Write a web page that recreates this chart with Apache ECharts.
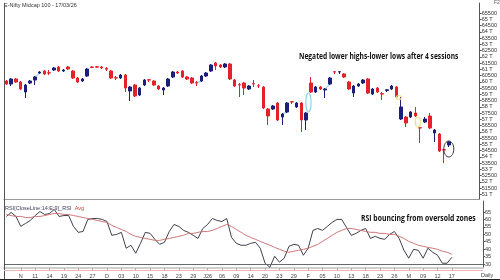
<!DOCTYPE html>
<html><head><meta charset="utf-8">
<script src="https://cdn.jsdelivr.net/npm/echarts@6/dist/echarts.min.js"></script>
<style>html,body{margin:0;padding:0;background:#fff;}#c{width:500px;height:280px;}</style>
</head><body><div id="c"></div>
<script>
const chartTitle = 'E-Nifty Midcap 100 - 17/03/26';
const note1 = 'Negated lower highs-lower lows after 4 sessions';
const note2 = 'RSI bouncing from oversold zones';
const rsiTitle = 'RSI[CloseLine:14:E:9]_RSI';
const tickLabels = ['N','11','14','19','24','27','D','03','10','15','18','23','29','J26','06','09','14','20','23','29','F','05','10','13','18','23','26','M','09','12','17'];
const priceTicks = [51000,51500,52000,52500,53000,53500,54000,54500,55000,55500,56000,56500,57000,57500,58000,58500,59000,59500,60000,60500,61000,61500,62000,62500,63000,63500,64000,64500,65000,65500];
const rsiTicks = [30,35,40,45,50,55,60,65];
// [open, close, low, high]
const candles = [
[60060,59820,59740,60140],[59820,60220,59660,60300],[60220,59980,59900,60300],[59980,59420,59340,60060],[59180,59740,58700,59820],
[59900,60060,59820,60140],[60140,60380,59740,60460],[60700,60780,60620,60860],[60860,60620,60540,60940],[60720,60700,60540,60940],
[60940,61100,60860,61180],[61180,60860,60780,61260],[60860,60940,60780,61020],[61180,61020,60940,61260],[60860,60300,60220,60940],
[60300,59980,59900,60380],[60060,60220,59980,60300],[60460,61020,60380,61100],[61180,61140,61100,61260],[61200,61170,61100,61260],
[61180,61100,61020,61260],[61060,61000,60860,61180],[60860,60300,60220,60940],[60320,60300,60140,60460],[60300,60540,60220,60620],
[60540,59500,59180,60620],[59260,59580,58460,59660],[59740,58860,58780,59820],[58940,59500,58860,59580],[59740,60140,59660,60220],
[60160,60140,59980,60220],[60060,59740,59660,60140],[59660,59420,59340,59740],[59340,59500,58940,59580],[59660,60220,59580,60300],
[60380,60780,60300,60860],[60780,60700,60620,60860],[60860,60380,60300,60940],[60380,60220,60140,60460],[60300,59900,59820,60380],
[59920,59900,59660,60060],[60060,60460,59980,60540],[60460,60700,60380,60780],[60860,61340,60780,61420],[61500,61260,60940,61580],
[61340,61180,61100,61420],[61180,61420,61100,61500],[61420,60220,60140,61500],[60140,59660,59580,60220],[59760,59740,58780,59900],
[59900,59500,58940,59980],[59420,59660,59340,59740],[59840,59820,59580,60140],[59680,59660,59500,59820],[59580,57900,57820,59660],
[57820,57260,56540,57900],[57820,58060,57740,58140],[58300,56940,56860,58380],[57180,57420,56540,57500],[57580,58300,57500,58380],
[58400,58380,58220,58460],[57980,58300,57900,58380],[58300,56940,55980,58380],[56940,57500,56140,57580],[59900,59180,59100,60380],
[59180,59580,59100,59660],[59580,59420,59340,59660],[59340,59420,58700,59500],[59820,60300,59740,60380],[60800,60780,60620,60860],
[60780,60800,60620,60860],[60620,60380,60300,60700],[59980,59420,59340,60060],[59100,59660,58780,59740],[59660,59820,59580,59900],
[59900,60140,59820,60220],[60220,59100,59020,60300],[59020,59420,58940,59500],[59500,59180,59100,59580],[59040,59020,58540,59180],
[59300,59360,59180,59420],[59420,59660,59340,59740],[59580,58780,58700,59660],[57020,57980,56940,58780],[57180,56700,56380,57260],
[57180,57580,57100,57660],[57500,57260,57180,57980],[56320,56300,55100,56380],[56780,57020,56700,57180],[57260,56300,56220,57500],
[55900,56140,55180,56220],[55820,54460,54380,55900],[54560,54540,53500,54620],[54940,55185,54780,55260]
];
const lastPrice = 55185;
const rsi = [62.0,64.7,62.0,55.3,57.3,59.3,62.6,65.3,63.3,64.0,
66.7,62.0,62.6,62.6,55.3,51.3,51.9,60.0,60.6,60.6,
60.0,58.6,49.3,49.9,51.3,40.6,42.6,37.2,43.9,51.3,
50.6,46.6,43.2,44.6,51.9,56.6,55.3,52.6,51.3,49.3,
47.2,53.9,56.6,60.6,59.3,58.6,60.6,47.9,43.9,42.6,
42.6,43.9,44.6,40.6,30.5,27.8,35.2,31.2,33.9,41.9,
43.2,42.6,35.9,40.6,52.6,53.9,52.6,55.3,58.0,60.0,
60.0,54.6,49.3,50.6,52.6,53.9,47.2,48.6,47.2,46.6,
49.9,51.9,47.2,39.2,33.9,39.9,39.2,33.9,40.6,37.9,
35.9,30.5,30.5,34.5];
const rsiAvg = [63.3,62.6,62.0,62.0,61.3,61.3,62.0,62.0,62.6,63.3,
64.0,64.0,63.3,63.3,62.6,62.0,61.3,60.6,60.0,59.3,
58.6,58.0,56.0,54.6,53.3,51.9,49.9,48.6,47.9,47.2,
46.6,45.9,45.9,46.6,47.2,47.9,48.6,49.3,50.6,50.6,
51.3,51.9,51.9,52.6,53.9,55.3,56.6,55.3,53.3,51.3,
49.3,47.9,46.6,45.2,43.9,42.6,41.2,39.9,38.6,37.9,
38.6,39.2,39.9,40.6,41.9,43.2,45.2,47.2,49.3,51.3,
52.6,53.9,53.9,53.3,52.6,51.9,51.3,51.3,50.6,50.6,
49.9,49.9,48.6,47.2,45.2,43.9,42.6,41.9,41.2,40.6,
39.9,38.6,37.9,36.5];
const windowLinks = [[6,7],[40,41],[58,59],[67,68]];
const upGaps = [[63,64]];
const downGaps = [[82,83],[86,87]];
const oversold = 30;

const EMPTY_SLOTS = 6;
const cats = Array.from({length: candles.length + EMPTY_SLOTS}, (_, i) => String(i));
const showTick = (i) => i >= 3 && (i - 3) % 3 === 0 && (i - 3) / 3 < tickLabels.length;
const RED = '#e5222a', BLUE = '#1c1f78';
const smallFont = 'Liberation Sans, Arial, sans-serif';
const noteFont = '"Open Sans", "Liberation Sans", sans-serif';

const chart = echarts.init(document.getElementById('c'), null, {renderer: 'canvas'});
const option = {
  animation: false,
  backgroundColor: '#fff',
  grid: [
    {left: 4, right: 17, top: 3, height: 196},
    {left: 4, right: 17, top: 201, height: 67}
  ],
  xAxis: [
    {type: 'category', gridIndex: 0, data: cats, boundaryGap: true,
     axisLine: {show: true, lineStyle: {color: '#9a9a9a'}}, axisTick: {show: false}, axisLabel: {show: false}, splitLine: {show: false}},
    {type: 'category', gridIndex: 1, data: cats, boundaryGap: true,
     axisLine: {show: true, lineStyle: {color: '#cfcfcf', width: 2}},
     axisTick: {show: true, interval: (i) => showTick(i), alignWithLabel: true, length: 2, lineStyle: {color: '#c9a0a0'}},
     axisLabel: {show: true, interval: (i) => showTick(i), margin: 5, fontSize: 5.5, color: '#444', fontFamily: smallFont,
       formatter: (v) => { const i = Number(v); return showTick(i) ? tickLabels[(i - 3) / 3] : ''; }},
     splitLine: {show: false}}
  ],
  yAxis: [
    {type: 'value', gridIndex: 0, position: 'right', min: 50620, max: 66300, scale: true,
     axisLine: {show: true, lineStyle: {color: '#555'}},
     axisTick: {show: true, customValues: priceTicks, length: 2, lineStyle: {color: '#555'}},
     axisLabel: {show: true, customValues: priceTicks, fontSize: 5.5, margin: 2, color: '#333', fontFamily: smallFont,
       formatter: (v) => (v % 1000 === 0 ? (v / 1000) + ' T' : String(v))},
     splitLine: {show: false}},
    {type: 'value', gridIndex: 1, position: 'right', min: 27.3, max: 72.4,
     axisLine: {show: true, lineStyle: {color: '#555'}},
     axisTick: {show: true, customValues: rsiTicks, length: 2, lineStyle: {color: '#555'}},
     axisLabel: {show: true, customValues: rsiTicks, fontSize: 5.5, margin: 2, color: '#333', fontFamily: smallFont},
     splitLine: {show: false}}
  ],
  series: [
    {type: 'candlestick', xAxisIndex: 0, yAxisIndex: 0, data: candles, barWidth: 3,
     itemStyle: {color: BLUE, color0: RED, borderColor: BLUE, borderColor0: RED, borderWidth: 1},
     markLine: {silent: true, symbol: 'none', lineStyle: {opacity: 0},
       label: {position: 'end', distance: 1, formatter: String(lastPrice), backgroundColor: '#000', color: '#fff',
               fontSize: 5.5, padding: [1, 1], fontFamily: smallFont},
       data: [{yAxis: lastPrice}]}},
    {type: 'line', xAxisIndex: 1, yAxisIndex: 1, data: rsi, symbol: 'none', lineStyle: {color: '#2b2b3a', width: 0.9},
     markLine: {silent: true, symbol: 'none', label: {show: false}, lineStyle: {color: '#6a6a6a', width: 1, type: 'solid'},
       data: [{yAxis: oversold}]}},
    {type: 'line', xAxisIndex: 1, yAxisIndex: 1, data: rsiAvg, symbol: 'none', lineStyle: {color: '#c86a6a', width: 0.9}}
  ]
};
chart.setOption(option);

const px = (i, v) => chart.convertToPixel({gridIndex: 0}, [i, v]);
const gfx = [];
gfx.push({type: 'line', shape: {x1: 4.5, y1: 3, x2: 4.5, y2: 280}, style: {stroke: '#555', lineWidth: 1}, z: 10});
gfx.push({type: 'line', shape: {x1: 0, y1: 279.5, x2: 500, y2: 279.5}, style: {stroke: '#222', lineWidth: 1}, z: 10});
gfx.push({type: 'line', shape: {x1: 4, y1: 270.5, x2: 483, y2: 270.5}, style: {stroke: '#efb8b8', lineWidth: 1}, z: 10});
gfx.push({type: 'text', x: 4, y: 2, style: {text: chartTitle, fontSize: 5.5, fill: '#333', fontFamily: smallFont}});
gfx.push({type: 'text', x: 494, y: 0, style: {text: 'F2', fontSize: 5, fill: '#555', fontFamily: smallFont}});
gfx.push({type: 'text', x: 5, y: 202, style: {text: '{a|' + rsiTitle + '} {b|Avg}', fontFamily: smallFont,
  rich: {a: {fill: '#3a3a5a', fontSize: 5.5, fontFamily: smallFont}, b: {fill: '#d04040', fontSize: 5.5, fontFamily: smallFont}}}});
gfx.push({type: 'text', x: 481, y: 272, style: {text: 'Daily', fontSize: 5.5, fill: '#444', fontFamily: smallFont}});
gfx.push({type: 'text', x: 299, y: 52, scaleX: 0.74, style: {text: note1, fontSize: 9, fontWeight: 'bold', fill: '#111', fontFamily: noteFont}});
gfx.push({type: 'text', x: 361, y: 214, scaleX: 0.76, style: {text: note2, fontSize: 9, fontWeight: 'bold', fill: '#111', fontFamily: noteFont}});
windowLinks.forEach(([a, b]) => {
  const p1 = px(a, candles[a][1]), p2 = px(b, candles[b][0]);
  gfx.push({type: 'line', shape: {x1: p1[0], y1: p1[1], x2: p2[0], y2: p2[1]}, style: {stroke: '#a6dff0', lineWidth: 1.5}, z: 1});
});
const gapEllipse = (a, b, up, color) => {
  const ya = px(a, up ? candles[a][3] : candles[a][2])[1];
  const yb = px(b, up ? candles[b][2] : candles[b][3])[1];
  const cx = (px(a, 0)[0] + px(b, 0)[0]) / 2;
  const cy = (ya + yb) / 2;
  const ry = Math.max(2, Math.abs(ya - yb) / 2);
  gfx.push({type: 'ellipse', shape: {cx: cx, cy: cy, rx: 2.6, ry: ry}, style: {fill: 'none', stroke: color, lineWidth: 1.2}, z: 5});
};
upGaps.forEach(([a, b]) => gapEllipse(a, b, true, '#8fd6ea'));
downGaps.forEach(([a, b]) => gapEllipse(a, b, false, '#efe08a'));
const li = candles.length - 1;
const lp = px(li, candles[li][2]);
gfx.push({type: 'ellipse', shape: {cx: lp[0], cy: lp[1] + 2, rx: 5, ry: 8}, style: {fill: 'none', stroke: '#333', lineWidth: 1}, z: 5});
chart.setOption({graphic: gfx});
</script></body></html>
